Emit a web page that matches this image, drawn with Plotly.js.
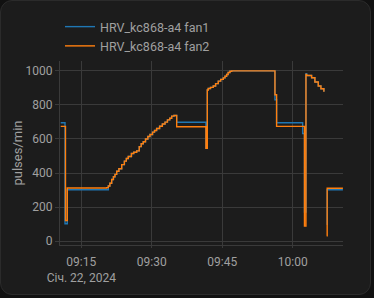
<!DOCTYPE html>
<html>
<head>
<meta charset="utf-8">
<script src="https://cdn.plot.ly/plotly-3.0.1.min.js"></script>
<style>
html,body{margin:0;padding:0;background:#111111;width:374px;height:298px;overflow:hidden;}
#card{position:absolute;left:0;top:0;width:369px;height:293px;background:#1c1c1c;border:1px solid #2b2b2b;border-radius:12px;}
#chart{position:absolute;left:0;top:0;width:374px;height:298px;}
</style>
</head>
<body>
<div id="card"></div>
<div id="chart"></div>
<script>
var seriesNames = ["HRV_kc868-a4 fan1", "HRV_kc868-a4 fan2"];
var times = [
"2024-01-22 09:10:37","2024-01-22 09:11:32","2024-01-22 09:11:38","2024-01-22 09:12:01",
"2024-01-22 09:20:24","2024-01-22 09:20:45","2024-01-22 09:21:05","2024-01-22 09:21:28",
"2024-01-22 09:21:50","2024-01-22 09:22:10","2024-01-22 09:22:32","2024-01-22 09:23:00",
"2024-01-22 09:23:36","2024-01-22 09:24:10","2024-01-22 09:24:35","2024-01-22 09:25:00",
"2024-01-22 09:25:40","2024-01-22 09:26:10","2024-01-22 09:26:47","2024-01-22 09:27:20",
"2024-01-22 09:27:45","2024-01-22 09:28:11","2024-01-22 09:28:40","2024-01-22 09:29:10",
"2024-01-22 09:29:37","2024-01-22 09:30:10","2024-01-22 09:30:35","2024-01-22 09:31:02",
"2024-01-22 09:31:40","2024-01-22 09:32:15","2024-01-22 09:32:49","2024-01-22 09:33:20",
"2024-01-22 09:33:50","2024-01-22 09:34:14","2024-01-22 09:34:43","2024-01-22 09:35:18",
"2024-01-22 09:41:32","2024-01-22 09:41:49","2024-01-22 09:42:01","2024-01-22 09:42:30",
"2024-01-22 09:43:05","2024-01-22 09:43:35","2024-01-22 09:44:09","2024-01-22 09:44:40",
"2024-01-22 09:45:13","2024-01-22 09:45:35","2024-01-22 09:45:56","2024-01-22 09:46:15",
"2024-01-22 09:46:38","2024-01-22 09:47:00","2024-01-22 09:56:13","2024-01-22 09:56:34",
"2024-01-22 10:02:07","2024-01-22 10:02:30","2024-01-22 10:02:49","2024-01-22 10:02:58",
"2024-01-22 10:04:01","2024-01-22 10:04:43","2024-01-22 10:05:26","2024-01-22 10:06:00",
"2024-01-22 10:06:38","2024-01-22 10:06:55","2024-01-22 10:07:13","2024-01-22 10:07:20",
"2024-01-22 10:10:41"
];
var fan1 = [
695,102,102,302,
302,324,340,362,
378,392,410,425,
449,470,485,497,
515,522,530,555,
572,584,600,614,
626,640,650,661,
675,688,699,712,
722,734,738,698,
545,888,896,903,
911,925,940,950,
959,968,979,990,
998,1000,830,695,
632,170,983,973,
960,935,911,895,
877,null,98,302,
302
];
var fan2 = [
674,674,121,312,
314,324,340,362,
378,392,410,425,
449,470,485,497,
515,522,530,555,
572,584,600,614,
626,640,650,661,
675,688,699,712,
722,734,738,672,
545,888,896,903,
911,925,940,950,
959,968,979,990,
998,1000,860,674,
674,88,979,973,
960,935,911,895,
877,null,31,310,
310
];
var tickVals = ["2024-01-22 09:15:00","2024-01-22 09:30:00","2024-01-22 09:45:00","2024-01-22 10:00:00"];
var tickText = ["09:15<br>Січ. 22, 2024","09:30","09:45","10:00"];
var yTicks = [0,200,400,600,800,1000];

var textColor = "#a0a0a0";
var gridColor = "#3a3a3a";
var traces = [
  {x: times, y: fan1, name: seriesNames[0], type: "scatter", mode: "lines",
   line: {color: "#1f77b4", width: 1.4, shape: "hv"}, connectgaps: false},
  {x: times, y: fan2, name: seriesNames[1], type: "scatter", mode: "lines",
   line: {color: "#ff7f0e", width: 1.4, shape: "hv"}, connectgaps: false}
];
var layout = {
  width: 374, height: 298,
  paper_bgcolor: "rgba(0,0,0,0)", plot_bgcolor: "rgba(0,0,0,0)",
  font: {family: "Roboto, sans-serif", size: 12, color: textColor},
  margin: {l: 60, r: 31, t: 58, b: 53},
  showlegend: true,
  legend: {x: 0, xanchor: "left", y: 1, yanchor: "bottom", orientation: "v",
    font: {size: 12.5, color: textColor}, bgcolor: "rgba(0,0,0,0)"},
  xaxis: {type: "date", range: ["2024-01-22 09:10:28","2024-01-22 10:10:42"],
    tickvals: tickVals, ticktext: tickText, tickmode: "array",
    showgrid: true, gridcolor: gridColor, gridwidth: 1,
    showline: true, linecolor: gridColor, linewidth: 1,
    ticks: "outside", ticklen: 2, tickcolor: gridColor, ticklabelstandoff: 4,
    tickfont: {size: 12, color: textColor}, zeroline: false},
  yaxis: {range: [-23, 1058], tickvals: yTicks, tickmode: "array",
    showgrid: true, gridcolor: gridColor, gridwidth: 1,
    showline: true, linecolor: gridColor, linewidth: 1,
    ticks: "outside", ticklen: 4, tickcolor: gridColor,
    zeroline: false, tickfont: {size: 12, color: textColor},
    title: {text: "pulses/min", font: {size: 13, color: textColor}, standoff: 0}}
};
Plotly.newPlot("chart", traces, layout, {displayModeBar: false, staticPlot: true});
</script>
</body>
</html>
